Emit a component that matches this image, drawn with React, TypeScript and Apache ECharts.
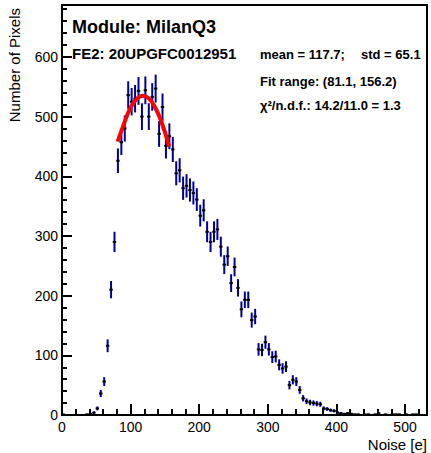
import React, { useEffect, useRef } from "react";
import * as echarts from "echarts";

// Histogram: bin centers start at BIN_START, spaced BIN_WIDTH
const BIN_START = 1.5;
const BIN_WIDTH = 5;
const COUNTS = [
  1, 0, 0, 0, 0, 0, 0, 1, 2, 4,
  11, 36, 56, 116, 210, 290, 426, 457, 480, 536,
  525, 530, 543, 500, 544, 500, 533, 547, 471, 516,
  451, 467, 445, 405, 410, 380, 384, 377, 372, 361,
  334, 343, 307, 290, 307, 311, 282, 252, 266, 221,
  248, 213, 177, 193, 193, 159, 165, 110, 109, 122,
  110, 97, 98, 84, 78, 81, 50, 59, 56, 42,
  28, 23, 21, 20, 19, 18, 11, 10, 8, 7,
  4, 3, 2, 3, 2, 1, 1, 0, 1, 1,
  0, 1, 3, 0, 1, 0, 1, 1, 1, 0,
  1, 0, 1, 1,
];

// Gaussian fit curve
const FIT_X = [81.1, 90, 100, 110, 118, 126, 135, 145, 156.2];
const FIT_Y = [458, 487, 515, 531, 535, 531, 517, 491, 450];

const X_MAX = 532;
const Y_MAX = 687;

const FONT = "'Liberation Sans', Arial, Helvetica, sans-serif";

export default function App() {
  const ref = useRef<HTMLDivElement>(null);
  useEffect(() => {
    if (!ref.current) return;
    const chart = echarts.init(ref.current, null, { renderer: "svg" });
    const histData = COUNTS.map((c, i) => [BIN_START + i * BIN_WIDTH, c]).filter((d) => d[1] > 0);
    const fitData = FIT_X.map((x, i) => [x, FIT_Y[i]]);
    chart.setOption({
      animation: false,
      grid: {
        left: 62,
        right: 4,
        top: 5,
        bottom: 38,
        show: true,
        borderColor: "#000",
        borderWidth: 2,
        backgroundColor: "transparent",
      },
      xAxis: {
        type: "value",
        min: 0,
        max: X_MAX,
        interval: 100,
        axisLine: { show: true, onZero: false, lineStyle: { color: "#000", width: 2 } },
        axisTick: { show: true, inside: true, length: 11, lineStyle: { color: "#000", width: 2 } },
        minorTick: { show: true, splitNumber: 5, length: 6, lineStyle: { color: "#000", width: 2 } },
        splitLine: { show: false },
        axisLabel: {
          color: "#000",
          fontSize: 14,
          fontFamily: FONT,
          margin: 5,
          formatter: (v: number) => (v % 100 === 0 ? String(v) : ""),
        },
      },
      yAxis: {
        type: "value",
        min: 0,
        max: Y_MAX,
        interval: 100,
        axisLine: { show: true, onZero: false, lineStyle: { color: "#000", width: 2 } },
        axisTick: { show: true, inside: true, length: 10, lineStyle: { color: "#000", width: 2 } },
        minorTick: { show: true, splitNumber: 5, length: 5, lineStyle: { color: "#000", width: 2 } },
        splitLine: { show: false },
        axisLabel: {
          color: "#000",
          fontSize: 14,
          fontFamily: FONT,
          margin: 4,
          formatter: (v: number) => (v % 100 === 0 ? String(v) : ""),
        },
      },
      series: [
        {
          type: "custom",
          data: histData,
          z: 2,
          renderItem: (params: any, api: any) => {
            const x = api.value(0);
            const y = api.value(1);
            const e = Math.sqrt(y);
            const top = api.coord([x, y + e]);
            const bot = api.coord([x, y - e]);
            const l = api.coord([x - BIN_WIDTH / 2, y]);
            const r = api.coord([x + BIN_WIDTH / 2, y]);
            return {
              type: "group",
              children: [
                {
                  type: "line",
                  shape: { x1: top[0], y1: top[1], x2: bot[0], y2: bot[1] },
                  style: { stroke: "#000099", lineWidth: 2 },
                },
                {
                  type: "line",
                  shape: { x1: l[0], y1: l[1], x2: r[0], y2: r[1] },
                  style: { stroke: "#000", lineWidth: 2 },
                },
              ],
            };
          },
        },
        {
          type: "line",
          data: fitData,
          smooth: true,
          showSymbol: false,
          z: 3,
          lineStyle: { color: "#ff0000", width: 4 },
        },
      ],
      graphic: [
        {
          type: "text",
          x: 72,
          y: 27,
          style: { text: "Module: MilanQ3", font: `bold 18px ${FONT}`, fill: "#000", verticalAlign: "middle" },
        },
        {
          type: "text",
          x: 72,
          y: 53,
          style: { text: "FE2: 20UPGFC0012951", font: `bold 15px ${FONT}`, fill: "#000", verticalAlign: "middle" },
        },
        {
          type: "text",
          x: 260,
          y: 54,
          style: { text: "mean = 117.7;", font: `bold 13px ${FONT}`, fill: "#000", verticalAlign: "middle" },
        },
        {
          type: "text",
          x: 361,
          y: 54,
          style: { text: "std = 65.1", font: `bold 13px ${FONT}`, fill: "#000", verticalAlign: "middle" },
        },
        {
          type: "text",
          x: 260,
          y: 81,
          style: { text: "Fit range: (81.1, 156.2)", font: `bold 13px ${FONT}`, fill: "#000", verticalAlign: "middle" },
        },
        {
          type: "text",
          x: 260,
          y: 105,
          style: { text: "χ²/n.d.f.: 14.2/11.0 = 1.3", font: `bold 13px ${FONT}`, fill: "#000", verticalAlign: "middle" },
        },
        {
          type: "text",
          x: 14,
          y: 8,
          rotation: Math.PI / 2,
          style: { text: "Number of Pixels", font: `15px ${FONT}`, fill: "#000", align: "right", verticalAlign: "middle" },
        },
        {
          type: "text",
          x: 427,
          y: 444,
          style: { text: "Noise [e]", font: `15px ${FONT}`, fill: "#000", align: "right", verticalAlign: "middle" },
        },
      ],
    });
    return () => chart.dispose();
  }, []);
  return (
    <div
      ref={ref}
      style={{ position: "absolute", left: 0, top: 0, width: 431, height: 453, background: "#fff" }}
    />
  );
}
